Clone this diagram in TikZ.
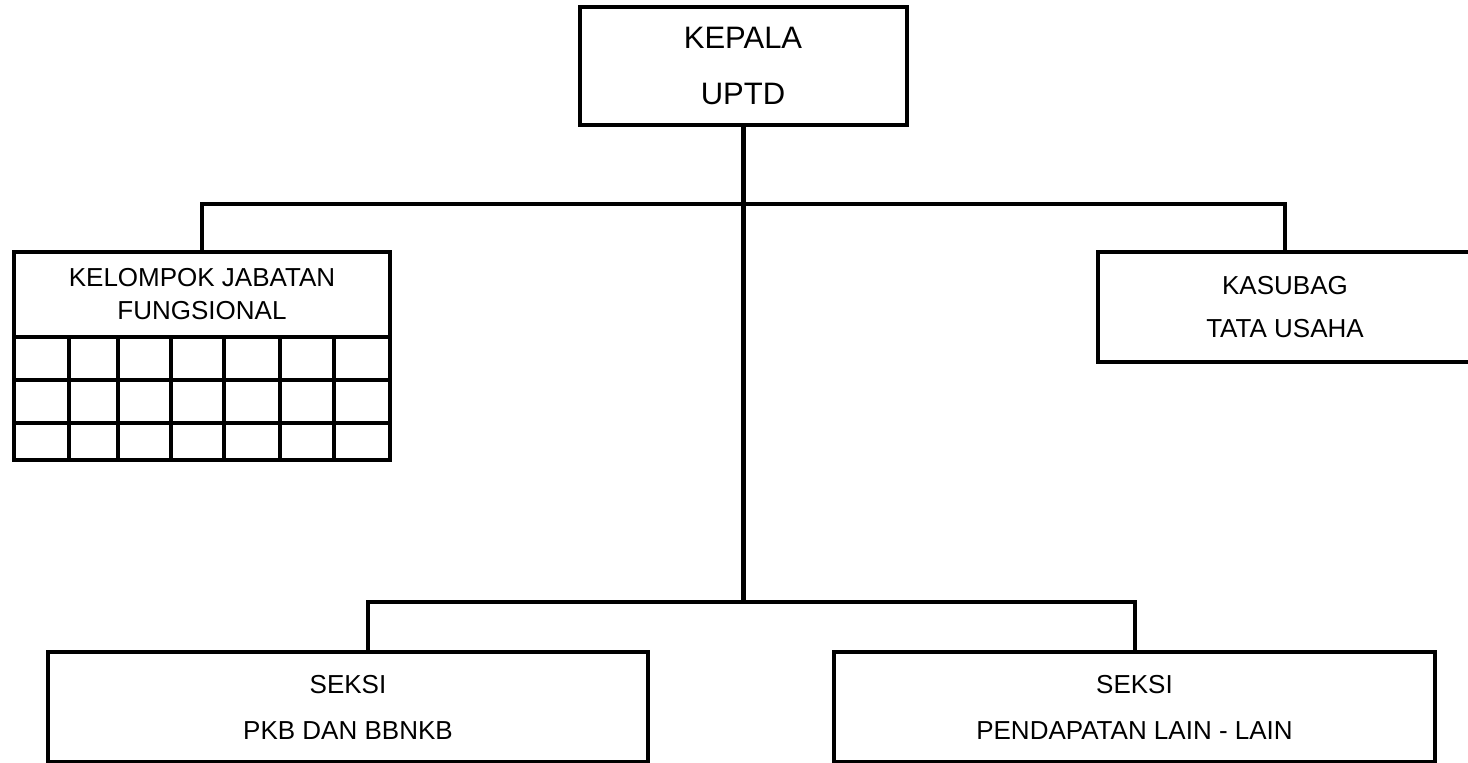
\documentclass[tikz,border=0pt]{standalone}
\usepackage{fontspec}
\setmainfont{Liberation Sans}
\begin{document}
\begin{tikzpicture}[x=0.5pt,y=-0.5pt,
% boxes and lines of the chart
unitbox/.style={draw, line width=2pt, inner sep=0pt, align=center,
    font=\fontsize{13pt}{21.5pt}\selectfont},
link/.style={line width=2pt},
trunk/.style={line width=2.5pt}]
\useasboundingbox (0,0) rectangle (1468,763);
% units
\node[unitbox, minimum width=163.5pt, minimum height=59pt,
    font=\fontsize{15.5pt}{28pt}\selectfont] (kepala) at (743,66) {KEPALA\\UPTD};
\node[unitbox, minimum width=188pt, minimum height=42.5pt,
    font=\fontsize{13pt}{16.5pt}\selectfont] (jafung) at (202,294.5)
    {KELOMPOK JABATAN\\FUNGSIONAL};
\node[unitbox, minimum width=187pt, minimum height=55pt] (tu) at (1285,307)
    {KASUBAG\\TATA USAHA};
\node[unitbox, minimum width=300pt, minimum height=55pt,
    font=\fontsize{13pt}{23pt}\selectfont] (pkb) at (348,707)
    {SEKSI\\PKB DAN BBNKB};
\node[unitbox, minimum width=300.5pt, minimum height=55pt,
    font=\fontsize{13pt}{23pt}\selectfont] (pll) at (1134.5,707)
    {SEKSI\\PENDAPATAN LAIN - LAIN};
% grid under the functional group
\draw[link] (14,337) rectangle (390,460);
\foreach \gx in {69,118,171,224,280,334}
    \draw[link] (\gx,337) -- (\gx,460);
\foreach \gy in {380,423}
    \draw[link] (14,\gy) -- (390,\gy);
% connectors
\coordinate (topbar) at (kepala.south |- 0,204);
\coordinate (botbar) at (kepala.south |- 0,602);
\draw[trunk] (kepala.south) -- (botbar);
\draw[link, line width=1.75pt] (jafung.north) |- (topbar) -| (tu.north);
\draw[link] ([xshift=10pt]pkb.north) |- (botbar) -| (pll.north);
\end{tikzpicture}
\end{document}
